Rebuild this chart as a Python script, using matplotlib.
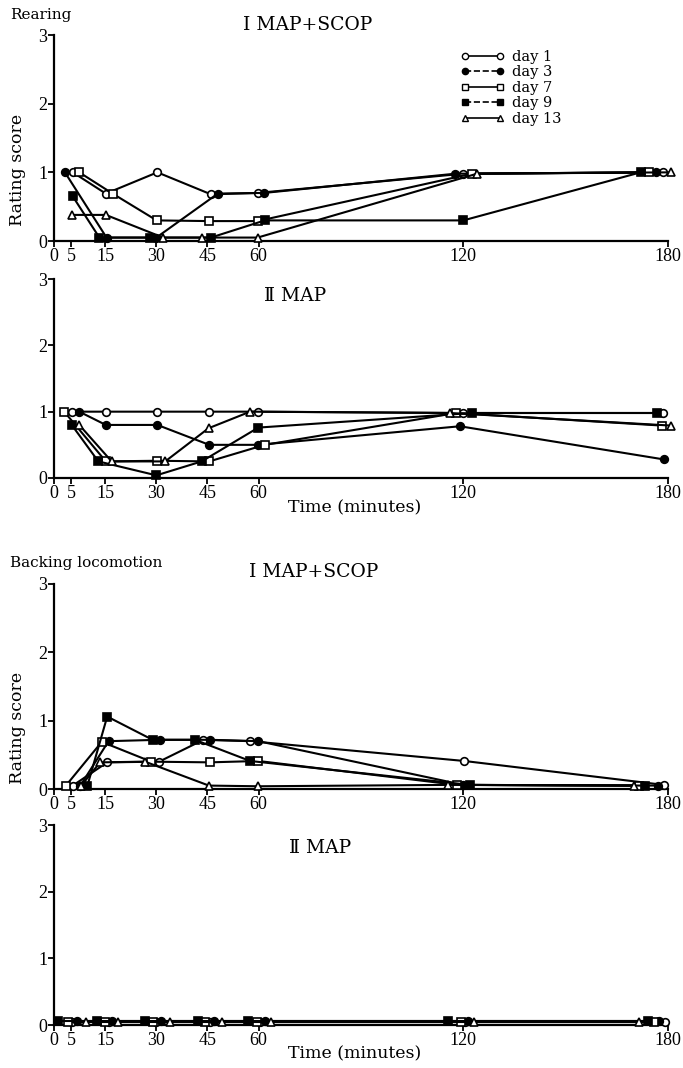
import matplotlib.pyplot as plt
from matplotlib.lines import Line2D

# ---------- DATA (x positions include the small
# horizontal offsets the original used to keep markers apart) ----------
TIME_TICKS = [0, 5, 15, 30, 45, 60, 120, 180]
DAYS = ["day 1", "day 3", "day 7", "day 9", "day 13"]

# Rearing, I MAP+SCOP
rear1_x = {
    "day 1": [5.5, 15.2, 30.3, 46.0, 59.7, 120.0, 178.5],
    "day 3": [3.2, 15.4, 30.0, 48.0, 61.6, 117.6, 176.5],
    "day 7": [7.4, 17.2, 30.1, 45.5, 59.7, 122.5, 174.5],
    "day 9": [5.5, 13.3, 28.2, 46.0, 61.8, 120.0, 172.0],
    "day 13": [5.2, 15.2, 32.0, 43.3, 59.7, 124.0, 181.0],
}
rear1_y = {
    "day 1": [1.0, 0.69, 1.0, 0.68, 0.70, 0.98, 1.0],
    "day 3": [1.0, 0.05, 0.05, 0.69, 0.70, 0.98, 1.0],
    "day 7": [1.0, 0.69, 0.30, 0.29, 0.29, 0.98, 1.0],
    "day 9": [0.65, 0.05, 0.05, 0.05, 0.30, 0.30, 1.0],
    "day 13": [0.38, 0.38, 0.05, 0.05, 0.05, 0.98, 1.0],
}

# Rearing, II MAP
rear2_x = {
    "day 1": [5.2, 15.2, 30.3, 45.3, 59.7, 120.0, 178.6],
    "day 3": [7.4, 15.2, 30.3, 45.5, 59.9, 119.0, 178.8],
    "day 7": [3.0, 15.2, 30.3, 45.5, 61.8, 117.9, 178.3],
    "day 9": [5.2, 13.0, 30.0, 43.3, 59.9, 122.5, 176.7],
    "day 13": [7.4, 16.9, 32.6, 45.3, 57.5, 116.1, 181.0],
}
rear2_y = {
    "day 1": [1.0, 1.0, 1.0, 1.0, 1.0, 0.98, 0.98],
    "day 3": [1.0, 0.80, 0.80, 0.50, 0.50, 0.78, 0.28],
    "day 7": [1.0, 0.25, 0.26, 0.25, 0.50, 0.98, 0.79],
    "day 9": [0.80, 0.25, 0.04, 0.25, 0.76, 0.98, 0.98],
    "day 13": [0.80, 0.25, 0.25, 0.75, 1.0, 0.98, 0.79],
}

# Backing locomotion, I MAP+SCOP
back1_x = {
    "day 1": [5.5, 15.6, 30.8, 43.8, 57.5, 120.3, 178.8],
    "day 3": [7.6, 16.0, 31.0, 45.7, 59.9, 120.0, 177.1],
    "day 7": [3.5, 14.0, 28.5, 45.7, 59.9, 118.1, 171.4],
    "day 9": [9.8, 15.6, 28.9, 41.3, 57.5, 122.0, 173.3],
    "day 13": [8.0, 13.5, 26.7, 45.4, 59.9, 115.6, 170.1],
}
back1_y = {
    "day 1": [0.05, 0.39, 0.40, 0.72, 0.70, 0.41, 0.06],
    "day 3": [0.04, 0.70, 0.72, 0.72, 0.70, 0.06, 0.05],
    "day 7": [0.05, 0.69, 0.40, 0.39, 0.41, 0.06, 0.05],
    "day 9": [0.05, 1.06, 0.72, 0.72, 0.41, 0.06, 0.05],
    "day 13": [0.05, 0.39, 0.40, 0.05, 0.04, 0.06, 0.05],
}

# Backing locomotion, II MAP
back2_x = {
    "day 1": [5.3, 16.0, 30.0, 45.7, 60.5, 120.5, 179.0],
    "day 3": [6.8, 17.0, 31.5, 47.0, 62.0, 121.5, 177.5],
    "day 7": [4.1, 15.0, 29.0, 44.3, 59.5, 119.4, 176.0],
    "day 9": [1.3, 12.5, 26.7, 42.3, 57.0, 115.5, 174.0],
    "day 13": [9.3, 18.9, 34.0, 49.2, 63.5, 123.0, 171.4],
}
back2_y = {
    "day 1": [0.05, 0.05, 0.05, 0.05, 0.05, 0.05, 0.05],
    "day 3": [0.06, 0.06, 0.06, 0.06, 0.06, 0.06, 0.06],
    "day 7": [0.05, 0.05, 0.05, 0.05, 0.05, 0.05, 0.05],
    "day 9": [0.06, 0.06, 0.06, 0.06, 0.06, 0.06, 0.06],
    "day 13": [0.04, 0.04, 0.04, 0.04, 0.04, 0.04, 0.04],
}

# ---------- STYLE ----------
STYLE = {
    "day 1": dict(marker="o", mfc="white", ls="-"),
    "day 3": dict(marker="o", mfc="black", ls="--"),
    "day 7": dict(marker="s", mfc="white", ls="-"),
    "day 9": dict(marker="s", mfc="black", ls="--"),
    "day 13": dict(marker="^", mfc="white", ls="-"),
}
W, H = 683, 1068
SERIF = ["DejaVu Serif"]
TICKFONT = ["Liberation Serif", "DejaVu Serif"]


def fx(px):
    return px / W


def fy(py):
    return 1 - py / H


def make_axes(fig, top, bottom, left=54, right=668):
    ax = fig.add_axes([fx(left), fy(bottom), fx(right - left), (bottom - top) / H])
    ax.set_xlim(0, 180)
    ax.set_ylim(0, 3)
    for s in ("top", "right"):
        ax.spines[s].set_visible(False)
    for s in ("left", "bottom"):
        ax.spines[s].set_linewidth(1.6)
    ax.set_xticks(TIME_TICKS)
    ax.set_yticks([0, 1, 2, 3])
    ax.tick_params(direction="out", length=4, width=1.3, pad=1,
                   labelsize=13)
    for lab in ax.get_xticklabels() + ax.get_yticklabels():
        lab.set_family(TICKFONT)
    return ax


def draw(ax, xs, ys):
    for d in DAYS:
        st = STYLE[d]
        ax.plot(xs[d], ys[d], color="black", lw=1.5, ls="-",
                marker=st["marker"], mfc=st["mfc"], mec="black",
                mew=1.2, ms=5.5, clip_on=False, zorder=3)


fig = plt.figure(figsize=(W / 100, H / 100), dpi=100)

ax1 = make_axes(fig, 35, 241)
draw(ax1, rear1_x, rear1_y)
ax2 = make_axes(fig, 279, 478)
draw(ax2, rear2_x, rear2_y)
ax3 = make_axes(fig, 584, 789)
draw(ax3, back1_x, back1_y)
ax4 = make_axes(fig, 825, 1025)
draw(ax4, back2_x, back2_y)

# legend (days 3 and 9 drawn dashed in the key)
handles = [Line2D([], [], color="black", lw=1.2, ls=STYLE[d]["ls"],
                  marker=STYLE[d]["marker"], mfc=STYLE[d]["mfc"],
                  mec="black", mew=1.0, ms=4.5) for d in DAYS]
ax1.legend(handles, DAYS, numpoints=2, frameon=False,
           loc="upper left", bbox_to_anchor=(fx(455 - 54) / fx(614), 1 - (44 - 35) / 206),
           handlelength=3.0, handletextpad=0.5, labelspacing=0.1,
           borderaxespad=0, prop=dict(family=SERIF, size=10.5))

# panel titles and labels
fig.text(fx(10), fy(15), "Rearing", family=SERIF, fontsize=11, va="center")
fig.text(fx(308), fy(25), "I MAP+SCOP", family=SERIF, fontsize=13.5,
         ha="center", va="center")
fig.text(fx(295), fy(296), "Ⅱ MAP", family=SERIF, fontsize=13.5,
         ha="center", va="center")
fig.text(fx(10), fy(563), "Backing locomotion", family=SERIF, fontsize=11,
         va="center")
fig.text(fx(314), fy(572), "I MAP+SCOP", family=SERIF, fontsize=13.5,
         ha="center", va="center")
fig.text(fx(320), fy(848), "Ⅱ MAP", family=SERIF, fontsize=13.5,
         ha="center", va="center")
fig.text(fx(18), fy(170), "Rating score", family=SERIF, fontsize=12.5,
         rotation=90, ha="center", va="center")
fig.text(fx(18), fy(728), "Rating score", family=SERIF, fontsize=12.5,
         rotation=90, ha="center", va="center")
fig.text(fx(355), fy(508), "Time (minutes)", family=SERIF, fontsize=12.5,
         ha="center", va="center")
fig.text(fx(355), fy(1054), "Time (minutes)", family=SERIF, fontsize=12.5,
         ha="center", va="center")

fig.savefig("out.png", dpi=100)
